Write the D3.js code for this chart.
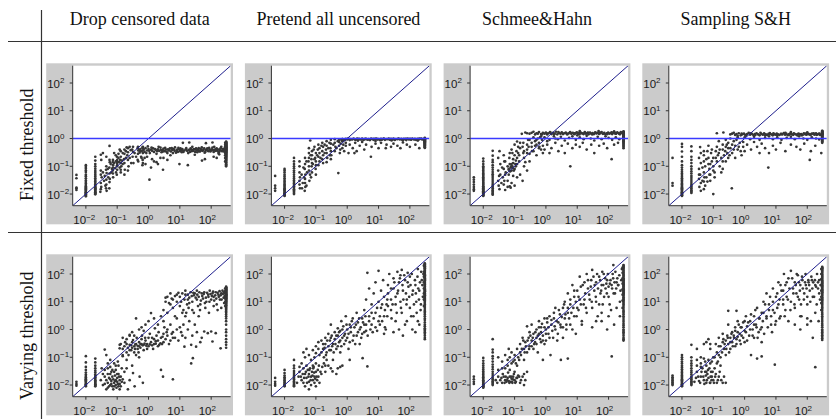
<!DOCTYPE html>
<html><head><meta charset="utf-8">
<script src="https://cdn.jsdelivr.net/npm/d3@7/dist/d3.min.js"></script>
<style>body{margin:0;background:#fff;} svg{display:block;}</style>
</head><body>
<svg id="chart" width="836" height="419"></svg>
<script>
const methods = ["Drop censored data", "Pretend all uncensored", "Schmee&Hahn", "Sampling S&H"];
const regimes = ["Fixed threshold", "Varying threshold"];
const tickExponents = [-2, -1, 0, 1, 2];
const axisDomain = [0.0038, 420];
const fixedThreshold = 1;

// ---------- Drop censored data, fixed threshold ----------
const dropFixedStacks = [
 [0.005, [0.049,0.037,0.017,0.016,0.014]],
 [0.01, [0.11,0.095,0.082,0.07,0.062,0.05,0.044,0.037,0.031,0.027,0.024,0.021,0.019,0.0175,0.016,0.015,0.014,0.013,0.0122,0.0115,0.011,0.0104,0.0098,0.0093,0.0088,0.0083]],
 [0.02, [0.22,0.16,0.12,0.1,0.082,0.068,0.058,0.05,0.043,0.037,0.032,0.028,0.025,0.022,0.02,0.018,0.017,0.016,0.015,0.014,0.013,0.012,0.0115,0.011,0.0104,0.0098]],
 [300, [0.78,0.75,0.72,0.7,0.68,0.66,0.64,0.62,0.6,0.58,0.57,0.55,0.54,0.52,0.51,0.5,0.49,0.48,0.47,0.46,0.45,0.44,0.43,0.42,0.41,0.4,0.39,0.38,0.37,0.36,0.35,0.34,0.33,0.32,0.31,0.3,0.29,0.28,0.27,0.26,0.25,0.24,0.23,0.22,0.21,0.2,0.19,0.18,0.17,0.16,0.15,0.14,0.13,0.12,0.115,0.11,0.1]],
 [280, [0.7,0.6,0.52,0.45,0.4,0.35,0.3,0.25,0.2,0.15]]
];
const dropFixedPts = [
 [0.03,0.26],[0.031,0.17],[0.03,0.07],[0.03,0.05],[0.032,0.04],[0.03,0.025],[0.031,0.018],[0.03,0.015],[0.029,0.012],
 [0.045,0.22],[0.045,0.1],[0.044,0.075],[0.046,0.057],[0.045,0.033],[0.045,0.022],[0.044,0.016],[0.046,0.013],
 [0.057,0.54],[0.057,0.17],[0.058,0.14],[0.056,0.09],[0.057,0.055],[0.058,0.035],[0.057,0.027],[0.056,0.016],
 [0.073,0.17],[0.072,0.14],[0.074,0.11],[0.073,0.09],[0.072,0.07],[0.073,0.055],[0.074,0.04],
 [0.098,0.22],[0.1,0.17],[0.097,0.15],[0.099,0.13],[0.1,0.11],[0.098,0.1],[0.1,0.075],[0.097,0.05],
 [0.13,0.35],[0.13,0.22],[0.125,0.17],[0.13,0.13],[0.135,0.1],[0.13,0.075],[0.13,0.06],
 [0.17,0.4],[0.17,0.28],[0.165,0.18],[0.17,0.13],[0.175,0.075],[0.17,0.05],
 [0.22,0.45],[0.22,0.32],[0.21,0.25],[0.22,0.17],[0.23,0.1],[0.22,0.07],
 [0.32,0.5],[0.3,0.4],[0.32,0.33],[0.31,0.22],[0.33,0.13],
 [0.46,0.5],[0.45,0.45],[0.47,0.37],[0.46,0.28],[0.45,0.17],[0.47,0.15],
 [0.66,0.5],[0.65,0.45],[0.67,0.37],[0.66,0.3],[0.65,0.17],[0.66,0.13],[0.64,0.11],
 [0.08,0.3],[0.11,0.28],[0.09,0.25],[0.035,0.3],
 [0.035,0.06],[0.038,0.03],[0.04,0.045],[0.042,0.02],[0.05,0.08],[0.052,0.04],[0.062,0.12],[0.065,0.06],[0.068,0.08],[0.08,0.13],[0.085,0.085],[0.09,0.15],[0.092,0.06],[0.11,0.2],[0.115,0.14],[0.12,0.09],[0.14,0.16],[0.15,0.12],[0.15,0.3],[0.19,0.2],[0.19,0.35],[0.25,0.2],[0.27,0.38],[0.28,0.13],[0.36,0.3],[0.4,0.22],[0.55,0.35],[0.58,0.22],[0.75,0.2],[0.12,0.4],[0.2,0.48],[0.25,0.5],
 [0.5,0.38],[0.55,0.42],[0.6,0.35],[0.7,0.4],[0.75,0.33],[0.8,0.45],[0.9,0.37],[1,0.42],[1.1,0.3],[1.2,0.4],[1.3,0.36],[1.4,0.44],[1.5,0.33],[1.7,0.39],[1.8,0.28],[2,0.41],[2.2,0.36],[2.4,0.47],[2.6,0.32],[2.8,0.38],[3,0.43],[3.3,0.35],[3.6,0.4],[4,0.3],[4.4,0.37],[4.8,0.44],[5.2,0.34],[5.7,0.39],[6.2,0.42],[6.8,0.36],[7.5,0.31],[8.2,0.4],[9,0.46],[10,0.35],[11,0.38],[12,0.42],[13,0.33],[14,0.37],[15.5,0.41],[17,0.36],[18.5,0.3],[20,0.39],[22,0.44],[24,0.35],[26,0.38],[28,0.42],[31,0.33],[34,0.37],[37,0.4],[40,0.45],[44,0.34],[48,0.39],[52,0.36],[57,0.42],[62,0.31],[68,0.38],[75,0.44],[82,0.35],[90,0.4],[100,0.37],[110,0.47],[120,0.33],[130,0.39],[140,0.42],[155,0.36],[170,0.3],[185,0.4],[200,0.45],[220,0.35],[240,0.41],[260,0.38],
 [0.52,0.31],[0.65,0.48],[0.85,0.3],[0.95,0.52],[1.05,0.36],[1.25,0.47],[1.6,0.42],[1.9,0.35],[2.1,0.5],[2.5,0.39],[2.9,0.34],[3.4,0.46],[3.8,0.33],[4.2,0.41],[4.6,0.38],[5.5,0.45],[6,0.3],[6.5,0.4],[7,0.48],[8,0.36],[8.6,0.33],[9.5,0.41],[10.5,0.44],[11.5,0.32],[12.5,0.37],[16,0.45],[19,0.38],[21,0.33],[23,0.4],[25,0.5],[27,0.36],[30,0.41],[33,0.44],[36,0.32],[39,0.38],[42,0.35],[46,0.42],[50,0.48],[55,0.37],[60,0.44],[65,0.33],[72,0.4],[78,0.37],[86,0.46],[95,0.34],[105,0.41],[115,0.38],[125,0.5],[135,0.36],[150,0.44],[165,0.4],[180,0.33],[195,0.37],[210,0.5],[230,0.42],[250,0.34],[270,0.45],
 [12.5,0.7],[20,0.72],[68,0.68],[110,0.72],[5,0.25],[30,0.26],[120,0.22],[180,0.27],
 [1.07,0.033],[2.9,0.075],[9.7,0.12],[18,0.11],[51,0.16],[63,0.18],[1.5,0.15],[2,0.12],[3,0.2],[0.8,0.12],[1.2,0.09],[0.6,0.2],[150,0.2],[0.9,0.22],[1.3,0.18],[4,0.17],[1.8,0.14],[2.4,0.2]
];

// ---------- Pretend all uncensored, fixed threshold ----------
const uncFixedStacks = [
 [0.005, [0.045,0.02,0.016,0.013]],
 [0.01, [0.08,0.07,0.06,0.05,0.043,0.037,0.032,0.028,0.025,0.022,0.02,0.018,0.016,0.015,0.014,0.013,0.012,0.011,0.0105,0.01,0.0095,0.009,0.0085]],
 [0.02, [0.2,0.15,0.12,0.1,0.085,0.07,0.06,0.05,0.042,0.036,0.031,0.027,0.024,0.021,0.019,0.017,0.015,0.014,0.013,0.012,0.011,0.01]],
 [300, [1.05,1.02,1.0,0.98,0.97,0.95,0.93,0.91,0.9,0.88,0.86,0.84,0.82,0.8,0.78,0.76,0.74,0.72,0.7,0.67,0.65,0.62,0.6,0.57,0.55,0.52,0.5,0.48,0.46]]
];
const uncFixedPts = [
 [0.03,0.15],[0.03,0.1],[0.03,0.06],[0.031,0.04],[0.03,0.03],[0.03,0.022],[0.031,0.016],[0.045,0.2],[0.045,0.12],[0.044,0.08],[0.046,0.05],[0.045,0.035],[0.045,0.025],[0.046,0.018],[0.044,0.013],
 [0.06,0.45],[0.06,0.3],[0.06,0.2],[0.058,0.15],[0.06,0.1],[0.06,0.07],[0.075,0.35],[0.075,0.25],[0.072,0.18],[0.075,0.13],[0.073,0.1],[0.075,0.06],[0.09,0.5],[0.1,0.3],[0.095,0.2],[0.1,0.15],[0.1,0.11],[0.098,0.08],[0.066,0.85],
 [0.12,0.6],[0.13,0.45],[0.13,0.3],[0.12,0.22],[0.13,0.15],[0.12,0.11],[0.16,0.7],[0.17,0.5],[0.16,0.35],[0.17,0.25],[0.16,0.18],[0.17,0.13],[0.22,0.8],[0.22,0.55],[0.21,0.4],[0.22,0.3],[0.23,0.2],[0.22,0.14],[0.3,0.9],[0.3,0.65],[0.29,0.45],[0.3,0.35],[0.31,0.25],[0.3,0.18],
 [0.035,0.05],[0.038,0.025],[0.04,0.09],[0.042,0.04],[0.05,0.15],[0.052,0.06],[0.065,0.05],[0.068,0.25],[0.08,0.12],[0.085,0.4],[0.09,0.18],[0.11,0.25],[0.115,0.4],[0.14,0.2],[0.15,0.55],[0.19,0.3],[0.19,0.6],[0.25,0.45],[0.27,0.7],[0.28,0.25],[0.36,0.6],[0.45,0.45],[0.5,0.8],[0.62,0.65],[0.65,0.9],[0.036,0.016],[0.05,0.02],[0.062,0.03],[0.07,0.04],[0.1,0.05],
 [0.4,0.95],[0.4,0.7],[0.42,0.5],[0.4,0.35],[0.52,0.057],[0.55,0.9],[0.55,0.75],[0.55,0.55],[0.6,0.4],[0.58,0.3],[0.7,0.95],[0.7,0.8],[0.75,0.6],[0.7,0.45],[0.8,0.35],[0.85,0.9],[0.9,0.7],
 [1.2,0.6],[1.5,0.45],[1.8,0.7],[2,0.35],[2.5,0.55],[3,0.75],[3.5,0.4],[4,0.6],[1.1,0.3],[5.7,0.22],[6,0.5],[8,0.65],[10,0.45],[12,0.7],[17,0.45],[18,0.6],[25,0.5],[30,0.65],[40,0.55],[50,0.45],[60,0.72],[80,0.6],[100,0.5],[150,0.6],[200,0.45],[2.2,0.85],[0.9,0.55],[1.7,0.3],
 [0.7,0.95],[0.8,0.9],[0.9,0.98],[1,0.93],[1.1,1],[1.2,0.88],[1.3,0.96],[1.4,0.92],[1.6,0.99],[1.8,0.9],[2,0.95],[2.2,0.86],[2.4,0.97],[2.7,0.93],[3,1],[3.3,0.89],[3.6,0.95],[4,0.98],[4.4,0.91],[4.8,0.96],[5.3,0.88],[5.8,0.99],[6.4,0.94],[7,0.9],[7.7,0.97],[8.5,1],[9.3,0.92],[10,0.96],[11,0.88],[12,0.98],[13,0.93],[14.5,0.99],[16,0.9],[17.5,0.96],[19,0.94],[21,1],[23,0.91],[25,0.97],[27.5,0.93],[30,0.99],[33,0.89],[36,0.96],[40,0.94],[44,1],[48,0.92],[53,0.97],[58,0.9],[64,0.98],[70,0.95],[77,0.88],[85,0.99],[93,0.93],[100,0.97],[110,0.91],[120,1],[132,0.94],[145,0.97],[160,0.89],[175,0.98],[190,0.93],[210,0.96],[230,1],[250,0.92],
 [0.75,0.85],[1.05,0.97],[1.5,0.94],[2.1,0.99],[2.9,0.92],[3.8,0.97],[5,0.93],[6.8,0.98],[9,0.95],[12.5,0.91],[15,0.97],[22,0.95],[32,0.92],[42,0.98],[56,0.94],[75,0.97],[105,0.95],[140,0.92],[200,0.99],[240,0.96],[26,0.85],[60,0.85],[8,0.82],[180,0.84]
];

// ---------- Schmee&Hahn, fixed threshold ----------
const shFixedStacks = [
 [0.005, [0.04,0.033,0.027,0.022,0.018,0.015,0.013]],
 [0.01, [0.19,0.15,0.12,0.1,0.09,0.08,0.07,0.062,0.055,0.05,0.045,0.04,0.036,0.033,0.03,0.027,0.025,0.023,0.021,0.019,0.018,0.017,0.016,0.015,0.014,0.013,0.0125,0.012,0.0115,0.011,0.0105,0.01,0.0095,0.009,0.0085]],
 [0.02, [0.36,0.24,0.17,0.14,0.11,0.09,0.075,0.062,0.052,0.045,0.038,0.032,0.027,0.023,0.02,0.018,0.016,0.014,0.013,0.012,0.011,0.01,0.0095]],
 [300, [1.8,1.75,1.7,1.65,1.6,1.55,1.5,1.48,1.45,1.42,1.4,1.35,1.3,1.25,1.2,1.15,1.1,1.05,1.0,0.95,0.9,0.85,0.8,0.75,0.7,0.65,0.6,0.55,0.5,0.45]]
];
const shFixedPts = [
 [0.033,0.35],[0.03,0.2],[0.035,0.12],[0.03,0.07],[0.032,0.045],[0.03,0.03],[0.031,0.02],[0.033,0.015],[0.045,0.25],[0.047,0.15],[0.045,0.08],[0.05,0.05],[0.047,0.03],[0.045,0.022],[0.05,0.014],
 [0.06,0.1],[0.065,0.08],[0.07,0.12],[0.075,0.09],[0.08,0.07],[0.085,0.1],[0.09,0.13],[0.1,0.08],[0.11,0.1],[0.12,0.12],[0.07,0.3],[0.08,0.4],[0.1,0.25],[0.12,0.2],[0.13,0.5],[0.14,0.15],[0.06,0.03],[0.08,0.025],[0.1,0.02],[0.12,0.04],[0.13,0.3],[0.15,0.7],[0.1,0.6],
 [0.065,0.075],[0.072,0.065],[0.078,0.1],[0.088,0.085],[0.095,0.07],[0.105,0.12],[0.07,0.019],[0.075,0.017],[0.09,0.045],[0.06,0.018],
 [0.035,0.05],[0.038,0.025],[0.04,0.09],[0.042,0.04],[0.05,0.15],[0.052,0.06],[0.065,0.05],[0.068,0.2],[0.08,0.12],[0.085,0.3],[0.09,0.18],[0.11,0.16],[0.115,0.35],[0.14,0.25],[0.15,0.45],[0.19,0.3],[0.19,0.7],[0.25,0.3],[0.27,0.9],[0.28,0.5],[0.36,0.35],[0.45,0.55],[0.5,0.9],[0.62,0.5],[0.65,1.1],
 [0.12,0.78],[0.22,1.65],[0.17,1.47],[0.25,1.55],
 [0.18,0.5],[0.2,0.35],[0.2,0.2],[0.22,0.14],[0.25,0.6],[0.25,0.4],[0.3,0.9],[0.3,0.28],[0.3,0.15],[0.35,0.7],[0.35,0.5],[0.4,1.1],[0.4,0.35],[0.45,0.8],[0.5,0.6],[0.5,0.25],[0.55,1.0],[0.6,0.45],[0.6,0.7],[0.7,1.2],[0.7,0.4],[0.75,0.9],[0.8,0.55],[0.8,0.3],[0.2,0.1],[0.25,0.07],[0.15,0.05],[0.18,0.03],
 [0.3,1.5],[0.35,1.6],[0.45,1.4],[0.5,1.55],[0.6,1.7],[0.7,1.45],[0.8,1.6],[0.9,1.5],[1,1.65],[1.1,1.4],[1.2,1.55],[1.35,1.7],[1.5,1.45],[1.7,1.6],[1.9,1.5],[2.1,1.75],[2.3,1.42],[2.6,1.58],[2.9,1.5],[3.2,1.68],[3.5,1.45],[3.9,1.55],[4.3,1.62],[4.8,1.4],[5.3,1.52],[5.9,1.7],[6.5,1.48],[7.2,1.6],[8,1.43],[8.8,1.56],[9.7,1.66],[10.7,1.5],[11.8,1.4],[13,1.62],[14.3,1.53],[15.8,1.45],[17.4,1.7],[19,1.5],[21,1.58],[23,1.42],[25.5,1.64],[28,1.5],[31,1.56],[34,1.44],[37.5,1.68],[41,1.52],[45,1.6],[50,1.46],[55,1.55],[60,1.72],[66,1.48],[73,1.6],[80,1.42],[88,1.55],[97,1.65],[107,1.5],[118,1.58],[130,1.44],[143,1.62],[157,1.52],[173,1.47],[190,1.66],[210,1.55],[230,1.42],[255,1.6],
 [0.4,1.75],[0.55,1.5],[0.75,1.4],[1.05,1.52],[1.4,1.62],[1.8,1.42],[2.5,1.7],[3.4,1.55],[4.6,1.5],[6.2,1.58],[8.4,1.52],[11.3,1.6],[16.5,1.55],[22,1.65],[30,1.4],[40,1.58],[53,1.62],[70,1.52],[92,1.45],[125,1.68],[165,1.6],[220,1.5],[245,1.7],[12,1.85],[48,1.85],[150,1.8],
 [0.9,1.1],[1.3,0.9],[1.8,1.2],[2.4,0.95],[3,1.15],[4,0.85],[5.5,1.05],[7,1.2],[9,0.9],[12,1.1],[16,0.95],[20,1.25],[27,1],[35,0.85],[45,1.15],[60,0.95],[80,1.2],[100,1.05],[130,0.9],[170,1.1],[220,0.95],[2,1],[1.1,0.8],[10,1.3],
 [1.1,0.6],[1.5,0.45],[2,0.7],[2.5,0.35],[3.2,0.55],[4,0.3],[5,0.65],[6,0.1],[7,0.45],[9,0.6],[12,0.5],[15,0.7],[20,0.4],[28,0.6],[35,0.3],[50,0.55],[70,0.65],[90,0.45],[125,0.18],[150,0.6],[200,0.7],[1.3,0.3],[0.9,0.4]
];

// ---------- Sampling S&H, fixed threshold ----------
const sampFixedStacks = [
 [0.005, [0.2,0.025,0.02]],
 [0.01, [0.64,0.5,0.34,0.22,0.15,0.11,0.09,0.075,0.063,0.055,0.048,0.042,0.037,0.033,0.03,0.027,0.024,0.022,0.02,0.018,0.017,0.016,0.015,0.014,0.013,0.012,0.0115,0.011,0.0105,0.01,0.0095,0.009,0.0085]],
 [0.02, [0.52,0.35,0.22,0.17,0.13,0.1,0.08,0.065,0.055,0.045,0.038,0.032,0.027,0.023,0.02,0.018,0.016,0.014,0.013,0.012,0.011]],
 [300, [1.9,1.85,1.8,1.75,1.7,1.65,1.6,1.55,1.5,1.48,1.45,1.42,1.4,1.35,1.3,1.25,1.2,1.15,1.1,1.05,1.0,0.95,0.9,0.85,0.8,0.75,0.7]]
];
const sampFixedPts = [
 [0.038,0.49],[0.04,0.3],[0.035,0.2],[0.04,0.13],[0.035,0.08],[0.038,0.05],[0.035,0.035],[0.04,0.025],[0.036,0.018],[0.04,0.013],[0.05,0.25],[0.05,0.15],[0.055,0.1],[0.05,0.06],[0.052,0.04],[0.05,0.028],[0.055,0.02],[0.05,0.015],
 [0.065,0.35],[0.07,0.2],[0.07,0.12],[0.075,0.08],[0.08,0.05],[0.085,0.3],[0.09,0.15],[0.1,0.1],[0.1,0.07],[0.11,0.04],[0.12,0.2],[0.13,0.15],[0.13,0.5],[0.15,0.8],[0.15,0.3],[0.16,0.1],[0.1,0.01],[0.08,0.03],[0.065,0.028],[0.18,0.06],[0.13,1.55],[0.21,1.65],
 [0.035,0.05],[0.045,0.03],[0.045,0.09],[0.06,0.04],[0.06,0.18],[0.075,0.05],[0.08,0.12],[0.09,0.4],[0.1,0.2],[0.11,0.06],[0.12,0.35],[0.14,0.25],[0.16,0.4],[0.18,0.2],[0.2,0.15],[0.24,0.35],[0.27,0.6],[0.3,0.45],[0.33,0.25],[0.4,0.6],[0.45,0.4],[0.55,0.9],[0.65,0.5],[0.75,0.35],[0.05,0.35],[0.07,0.55],
 [0.2,0.6],[0.2,0.4],[0.22,0.25],[0.25,0.9],[0.25,0.5],[0.28,0.3],[0.3,0.2],[0.3,0.7],[0.35,1.0],[0.35,0.45],[0.4,0.3],[0.45,0.8],[0.5,0.55],[0.5,0.2],[0.6,1.1],[0.6,0.4],[0.7,0.7],[0.8,0.25],[0.9,0.5],[0.39,0.016],[0.25,0.15],[0.2,0.08],
 [0.35,1.4],[0.4,1.5],[0.5,1.35],[0.55,1.45],[0.65,1.55],[0.75,1.3],[0.85,1.42],[0.95,1.5],[1.05,1.36],[1.2,1.45],[1.35,1.6],[1.5,1.38],[1.7,1.48],[1.9,1.33],[2.1,1.45],[2.4,1.55],[2.7,1.4],[3,1.3],[3.4,1.47],[3.8,1.38],[4.2,1.52],[4.7,1.42],[5.2,1.35],[5.8,1.46],[6.4,1.58],[7.1,1.4],[7.9,1.3],[8.7,1.45],[9.6,1.38],[10.6,1.5],[11.7,1.42],[13,1.34],[14.4,1.48],[16,1.4],[17.7,1.56],[19.6,1.37],[21.7,1.46],[24,1.32],[26.5,1.44],[29,1.52],[32,1.4],[35.5,1.36],[39,1.48],[43,1.42],[48,1.3],[53,1.5],[58,1.4],[64,1.45],[71,1.35],[78,1.55],[86,1.42],[95,1.38],[105,1.48],[116,1.4],[128,1.33],[141,1.5],[156,1.44],[172,1.38],[190,1.52],[210,1.4],[232,1.46],[255,1.35],
 [0.45,1.6],[0.6,1.25],[0.8,1.5],[1.1,1.28],[1.6,1.55],[2.2,1.35],[3.2,1.6],[4.5,1.28],[6,1.42],[8.3,1.52],[11,1.3],[15,1.45],[20,1.6],[27,1.38],[37,1.55],[50,1.44],[67,1.3],[90,1.5],[120,1.45],[160,1.55],[200,1.36],[245,1.5],[30,1.7],[100,1.68],
 [1,1.1],[1.5,0.95],[2,1.15],[3,0.9],[4.5,1.05],[6,1.2],[8,0.95],[11,1.1],[15,0.9],[22,1.05],[30,1.15],[40,0.95],[55,1.2],[75,1.0],[100,0.9],[140,1.1],[190,1.0],[240,0.92],
 [1.2,0.6],[1.6,0.4],[2,0.75],[2.5,0.5],[3,0.3],[3.5,0.65],[4.5,0.45],[5.7,0.09],[6,0.3],[8,0.55],[10,0.4],[14,0.7],[20,0.35],[30,0.6],[45,0.5],[60,0.4],[80,0.65],[120,0.17],[130,0.35],[180,0.55],[280,0.3],[1,0.35],[0.9,0.75]
];

// ---------- Drop censored data, varying threshold ----------
const dropVarStacks = [
 [0.005, [0.013,0.011,0.0095]],
 [0.01, [0.11,0.065,0.045,0.035,0.028,0.024,0.021,0.019,0.017,0.016,0.015,0.014,0.013,0.012,0.011,0.0105,0.01,0.0095,0.009]],
 [0.02, [0.09,0.065,0.05,0.04,0.033,0.028,0.024,0.021,0.019,0.017,0.015,0.014,0.013,0.012,0.011,0.0105,0.01,0.0095,0.009]],
 [300, [35,33,32,31,30,29,28,27,26,25,24,23,22,21,20,19.5,19,18.5,18,17.5,17,16.5,16,15.5,15,14.5,14,13.5,13,12.5,12,11.5,11,10.5,10,9.5,9,8.5,8,7.5,7,6.5,6,5.5,5,4.5,4,3.5,3,2.5,2,1.5,1,0.8,0.6,0.45,0.35,0.28,0.22]],
 [280, [30,24,20,16,13,10,7]]
];
const dropVarPts = [
 [0.04,0.02],[0.045,0.015],[0.05,0.012],[0.055,0.018],[0.06,0.01],[0.06,0.025],[0.065,0.014],[0.07,0.02],[0.07,0.009],[0.075,0.016],[0.08,0.012],[0.08,0.03],[0.085,0.022],[0.09,0.015],[0.09,0.01],[0.1,0.018],[0.1,0.013],[0.11,0.009],[0.11,0.025],[0.12,0.015],[0.12,0.011],[0.13,0.02],[0.14,0.013],[0.04,0.035],[0.05,0.04],[0.06,0.045],[0.05,0.008],[0.07,0.035],
 [0.035,0.01],[0.045,0.007],[0.055,0.009],[0.065,0.011],[0.075,0.007],[0.085,0.014],[0.095,0.008],[0.105,0.011],[0.115,0.02],[0.13,0.009],[0.15,0.016],[0.17,0.012],[0.06,0.016],[0.08,0.009],[0.1,0.025],[0.12,0.007],[0.04,0.011],[0.05,0.025],[0.065,0.03],[0.09,0.035],[0.11,0.05],[0.14,0.04],[0.17,0.03],[0.2,0.04],[0.25,0.015],[0.22,0.007],
 [0.05,0.06],[0.06,0.08],[0.08,0.06],[0.09,0.05],[0.04,0.19],[0.045,0.12],[0.035,0.025],[0.03,0.015],[0.032,0.04],
 [0.12,0.21],[0.15,0.11],[0.105,0.07],[0.13,0.3],[0.15,0.2],[0.17,0.25],[0.2,0.15],[0.2,0.3],[0.22,0.22],[0.25,0.28],[0.25,0.18],[0.3,0.22],[0.3,0.35],[0.35,0.25],[0.35,0.15],[0.4,0.3],[0.45,0.2],[0.5,0.35],[0.5,0.25],[0.6,0.3],[0.6,0.45],[0.7,0.28],[0.8,0.4],[0.9,0.3],[1,0.5],[1,0.25],[1.2,0.35],[1.5,0.45],[1.5,0.3],[1.8,0.6],[2,0.4],[2,0.25],[2.5,0.5],[3,0.35],[3,0.7],[3.5,0.45],[4,0.6],[5,0.4],[6,0.5],[0.15,0.5],[0.25,0.6],[0.3,0.8],[0.4,0.12],[0.2,0.08],[0.3,0.05],[0.5,0.1],
 [0.15,0.12],[0.18,0.35],[0.2,0.45],[0.23,0.12],[0.28,0.18],[0.32,0.42],[0.37,0.2],[0.42,0.5],[0.48,0.15],[0.55,0.22],[0.62,0.6],[0.7,0.18],[0.78,0.5],[0.9,0.2],[1.1,0.7],[1.3,0.5],[1.4,0.2],[1.7,0.38],[2.1,0.8],[2.4,0.32],[2.8,0.55],[3.2,1.2],[3.8,0.8],[4.5,0.3],[5.5,0.7],[7,0.5],[8,1],[9,0.4],[11,0.8],[13,1.5],[18,1],[25,0.6],[35,0.8],[50,0.5],[0.8,1.5],[1,2],[2,1.5],[2.5,3],[0.6,1.2],[0.35,0.6],[0.7,0.9],[1.6,1.1],
 [0.28,0.27],[0.38,0.29],[0.45,0.26],[0.55,0.3],[0.65,0.27],[0.75,0.31],[0.85,0.26],[1.1,0.29],[1.3,0.27],[1.7,0.31],[2.2,0.28],[2.7,0.3],
 [0.32,0.027],[0.52,0.02],[0.66,0.012],[0.36,0.009],[2.5,0.035],[2.9,0.02],[6,0.016],[26,0.093],[23,0.06],
 [0.4,2.5],[0.12,0.28],[0.25,0.64],[0.5,1],[1.2,3.9],[1.5,2.5],
 [3,5],[3.5,10],[4,15],[4,4],[5,8],[5,20],[6,6],[6,12],[7,3],[8,10],[8,18],[10,7],[10,15],[12,20],[12,4],[14,12],[15,25],[17,8],[18,18],[20,14],[22,22],[25,10],[25,5],[28,17],[30,20],[35,12],[35,25],[40,15],[45,8],[50,20],[55,13],[60,22],[70,10],[80,18],[90,25],[100,12],[110,20],[120,15],[140,22],[150,8],[170,18],[190,12],[210,20],[230,25],[250,14],
 [15,18],[18,12],[20,9],[24,16],[27,21],[32,14],[36,18],[42,22],[47,11],[52,16],[58,19],[63,9],[68,14],[74,21],[82,15],[88,10],[95,19],[105,16],[115,23],[125,11],[135,17],[145,13],[160,21],[175,15],[185,24],[200,17],[215,12],[235,19],[255,22],[270,16],[3.5,14],[4.5,9],[5.5,13],[7,16],[9,21],[11,10],[13,5],[16,4],[19,6],[28,4],[38,7],[44,5],[65,6],[85,4],[120,7],[160,5],[210,6],[260,9],
 [3,2],[5,1.5],[8,2.5],[10,1.2],[15,3],[20,2],[30,1.5],[40,3],[4,1],[6,0.8],[12,0.6],[15,0.5],
 [60,0.85],[78,0.74],[100,0.85],[140,0.74],[110,0.37],[200,0.21],[14,0.24],[23,0.28],[33,0.24],[45,0.35]
];

// ---------- Pretend all uncensored, varying threshold ----------
const uncVarStacks = [
 [0.005, [0.018,0.013,0.011,0.0095]],
 [0.01, [0.035,0.027,0.022,0.019,0.017,0.015,0.013,0.012,0.011,0.01,0.0095,0.009]],
 [0.02, [0.08,0.05,0.04,0.032,0.027,0.023,0.02,0.018,0.016,0.014,0.013,0.012,0.011,0.01,0.0095,0.009]],
 [300, [240,230,220,210,200,190,180,170,160,150,140,130,120,110,100,95,90,85,80,75,70,65,60,56,52,48,45,42,40,37,35,32,30,28,26,24,23,21,20,19,18,17,16,15,14,13,12,11,10,9,8,7,6,5,4.5,4,3.5,3,2.5,2.2,1.8,1.5,1.3,1.1,1,0.9,0.8,0.7,0.6,0.5,0.45]],
 [280, [200,120,80,50,30,20,12,7]]
];
const uncVarPts = [
 [0.03,0.045],[0.03,0.03],[0.033,0.02],[0.035,0.015],[0.04,0.04],[0.04,0.012],[0.045,0.025],[0.05,0.018],[0.05,0.05],[0.055,0.035],[0.06,0.013],[0.06,0.025],[0.065,0.04],[0.07,0.02],[0.07,0.01],[0.075,0.03],[0.08,0.015],[0.085,0.045],[0.09,0.012],[0.09,0.02],[0.1,0.009],[0.1,0.03],[0.11,0.015],[0.12,0.02],[0.13,0.012],[0.06,0.007],[0.045,0.009],[0.15,0.025],[0.035,0.06],
 [0.025,0.012],[0.028,0.02],[0.038,0.025],[0.042,0.018],[0.048,0.03],[0.052,0.012],[0.058,0.02],[0.062,0.035],[0.068,0.015],[0.078,0.022],[0.082,0.04],[0.088,0.028],[0.095,0.017],[0.105,0.02],[0.115,0.035],[0.125,0.05],[0.14,0.03],[0.16,0.045],[0.18,0.06],[0.2,0.03],[0.22,0.08],[0.25,0.05],
 [0.04,0.15],[0.045,0.1],[0.05,0.2],[0.06,0.12],[0.07,0.08],[0.08,0.18],[0.09,0.1],[0.1,0.25],[0.1,0.14],[0.12,0.35],[0.12,0.2],[0.13,0.12],
 [0.15,0.4],[0.17,0.2],[0.18,0.1],[0.2,0.5],[0.2,0.3],[0.22,0.15],[0.25,0.7],[0.25,0.25],[0.28,0.4],[0.3,1.5],[0.3,0.18],[0.32,0.6],[0.35,0.3],[0.35,0.08],[0.4,0.8],[0.4,0.45],[0.45,0.2],[0.5,1.1],[0.5,0.6],[0.55,0.35],[0.6,0.15],[0.6,0.9],[0.65,2],[0.7,0.5],[0.75,1.3],[0.8,0.3],[0.85,0.7],[0.9,3],[1,1],[1,0.5],[1.1,0.2],[1.2,1.5],[1.3,0.8],[1.5,0.4],[1.5,2.5],[1.7,1.2],[2,0.6],[2,4],[2.2,1.8],[2.5,0.3],[2.5,1],[3,2.5],[3,0.7],[3.5,5],[3.5,1.5],[4,0.9],[0.08,0.05],[0.1,0.06],[0.2,0.05],[0.3,0.04],[0.5,0.04],[0.7,0.05],[1.2,0.08],
 [0.15,0.15],[0.17,0.3],[0.19,0.22],[0.21,0.12],[0.23,0.4],[0.27,0.18],[0.3,0.5],[0.33,0.25],[0.37,0.15],[0.42,0.3],[0.45,0.6],[0.5,0.25],[0.55,0.8],[0.6,0.4],[0.65,0.25],[0.7,1],[0.8,0.6],[0.9,0.4],[0.95,1.5],[1.1,0.7],[1.2,0.35],[1.3,1.2],[1.4,2],[1.6,0.6],[1.8,0.3],[1.9,1.5],[2.2,0.8],[2.4,2.5],[2.7,1.2],[2.8,0.5],[3.2,1.8],[3.5,0.8],[3.8,3],[4,1.5],[4.5,0.6],[5,2],[5.5,1],[6,4],[6.5,0.8],[7,2.5],[8,1.2],[9,6],[9,0.9],[11,3],[11,1.5],[13,8],[13,2],[16,5],[16,1.2],[19,12],[19,3],
 [3.1,0.093],[4.4,0.047],[0.34,0.031],[0.45,0.025],[0.6,0.045],
 [4,12],[4.4,110],[5,30],[5,3],[6,8],[6,1.5],[7,20],[8,4],[8,50],[10,130],[10,10],[10,2],[12,25],[12,6],[14,60],[15,15],[15,3],[17,1],[18,8],[20,40],[20,20],[22,100],[25,5],[25,12],[30,70],[30,30],[35,2],[35,8],[40,20],[45,50],[50,10],[50,90],[55,4],[60,25],[70,60],[70,1.5],[80,12],[90,35],[100,6],[100,80],[120,18],[130,3],[150,40],[160,10],[180,2],[200,25],[220,5],[240,60],[30,0.8],[60,0.6],[15,0.7],
 [25,30],[28,8],[32,50],[35,15],[38,4],[42,25],[48,70],[52,6],[58,40],[62,12],[66,90],[75,20],[78,8],[85,50],[95,15],[105,40],[110,3],[115,100],[125,25],[135,8],[145,60],[155,20],[165,4],[175,80],[185,30],[195,12],[210,50],[225,8],[250,40],[260,15],[270,100],[40,120],[55,140],[85,110],[180,150],[230,120],[20,7],[26,2.5],[45,1],[80,2],[120,1],[200,1.5],[150,0.8]
];

// ---------- Schmee&Hahn, varying threshold ----------
const shVarStacks = [
 [0.005, [0.02,0.016,0.013,0.011]],
 [0.01, [0.095,0.075,0.06,0.05,0.042,0.036,0.031,0.027,0.024,0.021,0.019,0.017,0.015,0.014,0.013,0.012,0.011,0.0105,0.01,0.0095,0.009,0.0085,0.008]],
 [0.02, [0.45,0.19,0.15,0.11,0.09,0.07,0.055,0.045,0.037,0.03,0.025,0.021,0.018,0.016,0.014,0.013,0.012,0.011,0.01]],
 [300, [210,195,180,165,150,135,120,110,100,92,85,78,70,65,60,56,52,48,45,42,40,37,35,32,30,28,26,24,22,20,19,17.5,16,14.5,13,12,11,10,9,8,7,6,5,4.5,4,3.5,3,2.6,2.2,1.9,1.6,1.4,1.2,1,0.9,0.8,0.7,0.6,0.5,0.45,0.4]],
 [280, [170,110,70,45,28,18,11,6]]
];
const shVarPts = [
 [0.03,0.02],[0.035,0.015],[0.04,0.012],[0.045,0.02],[0.05,0.015],[0.055,0.013],[0.06,0.018],[0.065,0.014],[0.07,0.02],[0.075,0.013],[0.08,0.017],[0.085,0.012],[0.09,0.02],[0.1,0.015],[0.11,0.013],[0.12,0.018],[0.13,0.022],[0.15,0.012],[0.2,0.01],[0.2,0.025],[0.25,0.03],[0.03,0.035],[0.05,0.04],[0.07,0.035],[0.1,0.03],
 [0.025,0.015],[0.028,0.012],[0.038,0.018],[0.042,0.025],[0.048,0.012],[0.052,0.02],[0.058,0.015],[0.062,0.028],[0.068,0.012],[0.078,0.02],[0.082,0.013],[0.088,0.016],[0.095,0.025],[0.105,0.012],[0.115,0.018],[0.14,0.02],[0.16,0.015],[0.18,0.02],[0.22,0.015],
 [0.03,0.1],[0.04,0.07],[0.05,0.12],[0.06,0.08],[0.065,0.2],[0.07,0.1],[0.08,0.15],[0.09,0.07],[0.1,0.12],[0.11,0.06],[0.12,0.2],[0.13,0.1],
 [0.04,0.04],[0.06,0.05],[0.08,0.06],[0.1,0.08],[0.12,0.05],[0.14,0.08],[0.16,0.12],[0.17,0.2],[0.19,0.4],[0.21,0.15],[0.23,0.25],[0.26,0.4],[0.29,0.2],[0.32,0.6],[0.35,0.25],[0.38,0.5],[0.42,0.3],[0.46,0.8],[0.5,0.3],[0.55,0.6],[0.6,1.2],[0.65,0.45],[0.7,0.8],[0.75,1.6],[0.8,0.4],[0.9,1.2],[1,0.7],[1.1,2.5],[1.2,1.2],[1.3,0.5],[1.5,2.2],[1.6,0.9],[1.8,4],[1.9,1.3],[2.2,2],[2.4,0.7],[2.6,5],[2.9,1.5],[3.2,2.8],[3.5,1.2],[3.8,8],[4.2,3.5],[4.5,1.5],[5,6],[5.5,2.5],[6,12],[6.5,4],[7,1],[7.5,6],[8,25],[9,10],[9.5,3],[11,15],[11,5],[13,35],[13,8],[14,1.5],[17,12],[17,50],[19,6],
 [0.15,0.3],[0.15,0.15],[0.18,0.5],[0.2,0.2],[0.2,0.08],[0.22,0.35],[0.25,1.3],[0.25,0.15],[0.28,0.5],[0.3,0.25],[0.3,0.8],[0.35,0.4],[0.35,1.5],[0.4,0.2],[0.4,0.7],[0.45,0.35],[0.5,1],[0.5,0.5],[0.55,0.15],[0.6,2],[0.6,0.7],[0.7,0.35],[0.7,1.2],[0.8,0.6],[0.9,2.5],[0.9,0.3],[1,1],[1,0.4],[1.1,1.8],[1.2,0.7],[1.3,3],[1.4,0.12],[1.5,1.5],[1.7,0.5],[1.8,2.5],[2,1],[2,6],[2.3,0.4],[2.5,1.8],[2.8,3.5],[3,0.08],[3,1.2],[3.5,0.5],[3.5,6],[4,2.5],[4.5,1],[5,0.09],[0.8,0.08],
 [4,10],[5,4],[5,20],[6,1.5],[6,8],[7,40],[8,15],[8,3],[9,0.7],[10,25],[10,6],[12,80],[12,12],[14,2],[15,40],[16,8],[18,20],[20,100],[20,4],[22,30],[25,12],[28,60],[30,6],[30,140],[35,25],[40,50],[40,10],[45,3],[50,80],[55,20],[60,40],[65,8],[70,100],[80,30],[90,60],[100,15],[110,45],[120,5],[130,30],[140,70],[126,0.107],[160,20],[142,210],[180,50],[200,40],[230,10],[30,1.2],[60,2],[90,1],[150,1.5],
 [22,60],[24,18],[27,35],[29,10],[33,80],[36,40],[39,15],[43,100],[46,30],[50,8],[54,60],[58,25],[63,120],[68,40],[72,15],[78,70],[85,45],[88,20],[95,100],[100,35],[108,8],[115,60],[125,40],[135,100],[145,20],[155,50],[165,120],[175,30],[190,70],[205,40],[220,90],[240,25],[255,60],[265,150],[60,4],[100,3],[180,6],[230,3],[40,2]
];

// ---------- Sampling S&H, varying threshold ----------
const sampVarStacks = [
 [0.005, [0.022,0.019,0.017,0.015,0.013,0.012,0.011,0.01]],
 [0.01, [0.12,0.1,0.085,0.07,0.06,0.05,0.043,0.037,0.032,0.028,0.025,0.022,0.02,0.018,0.016,0.015,0.014,0.013,0.012,0.011,0.0105,0.01,0.0095,0.009]],
 [0.02, [0.28,0.1,0.075,0.06,0.05,0.04,0.033,0.028,0.024,0.02,0.018,0.016,0.014,0.013,0.012,0.011,0.01]],
 [300, [180,170,160,150,140,130,120,110,100,92,85,78,72,66,60,55,50,46,42,39,36,33,30,28,26,24,22,20.5,19,17.5,16,14.5,13,12,11,10,9,8,7,6.2,5.5,4.7,4,3.5,3,2.6,2.2,1.9,1.6,1.4,1.2,1,0.9,0.8,0.7,0.62,0.55,0.48,0.42]],
 [280, [150,100,65,40,25,15,9,5]]
];
const sampVarPts = [
 [0.03,0.08],[0.03,0.05],[0.03,0.03],[0.033,0.02],[0.035,0.014],[0.04,0.1],[0.04,0.06],[0.04,0.02],[0.045,0.04],[0.05,0.09],[0.05,0.015],[0.055,0.07],[0.055,0.03],[0.06,0.012],[0.06,0.05],[0.065,0.025],[0.07,0.08],[0.07,0.018],[0.075,0.04],[0.08,0.012],[0.08,0.06],[0.085,0.03],[0.09,0.02],[0.1,0.1],[0.1,0.015],[0.11,0.04],[0.12,0.025],[0.13,0.012],[0.14,0.07],[0.15,0.02],[0.17,0.05],[0.2,0.012],
 [0.025,0.013],[0.028,0.018],[0.038,0.012],[0.042,0.03],[0.048,0.02],[0.052,0.011],[0.058,0.022],[0.062,0.015],[0.068,0.035],[0.078,0.012],[0.082,0.02],[0.088,0.015],[0.095,0.03],[0.105,0.012],[0.115,0.02],[0.14,0.015],[0.16,0.03],[0.18,0.015],[0.22,0.02],[0.25,0.012],
 [0.03,0.2],[0.05,0.3],[0.06,0.35],[0.07,0.45],[0.08,0.3],[0.08,0.2],
 [0.04,0.045],[0.06,0.03],[0.09,0.07],[0.11,0.1],[0.13,0.06],[0.15,0.12],[0.17,0.25],[0.19,0.15],[0.21,0.45],[0.23,0.3],[0.26,0.2],[0.29,0.5],[0.32,0.15],[0.35,0.35],[0.38,0.7],[0.42,0.25],[0.46,0.5],[0.5,0.9],[0.55,0.3],[0.6,0.55],[0.65,1.5],[0.7,0.7],[0.75,0.3],[0.8,1.2],[0.9,0.5],[1,2],[1.1,0.8],[1.2,0.4],[1.3,1.8],[1.5,1],[1.6,3.5],[1.8,0.6],[2,1.5],[2.2,5],[2.4,1.2],[2.6,0.5],[2.9,2.5],[3.2,1],[3.5,4],[3.8,2],[4.2,0.7],[4.5,8],[5,2.5],[5.5,1.2],[6,5],[6.5,15],[7,3],[7.5,0.8],[8,10],[9,4],[9.5,1.5],[11,20],[11,6],[13,12],[13,2.5],[14,40],[17,8],[17,25],[19,3],
 [0.12,0.3],[0.13,0.15],[0.15,0.5],[0.15,0.25],[0.17,0.1],[0.2,0.35],[0.2,0.7],[0.22,0.2],[0.25,0.4],[0.25,0.12],[0.28,0.6],[0.3,0.3],[0.3,1.5],[0.35,0.5],[0.35,0.2],[0.4,0.8],[0.4,0.35],[0.45,0.6],[0.5,0.25],[0.5,1.2],[0.55,0.45],[0.6,2],[0.6,0.8],[0.7,0.4],[0.75,1.2],[0.8,0.6],[0.9,1.8],[1,0.9],[1,0.35],[1.1,3],[1.2,1.3],[1.4,0.6],[1.5,2],[1.6,0.12],[1.8,1],[2,3],[2,0.5],[2.3,1.5],[2.5,6],[2.8,0.8],[3,2.5],[3.5,1.2],[3.5,0.35],[4,4],[9.2,0.054],[3.5,0.107],[2.5,0.09],[0.3,4.7],[0.55,4.7],
 [4,10],[5,20],[5,3],[6,8],[7,1.5],[8,30],[8,5],[10,15],[10,2],[12,50],[12,8],[14,3],[15,25],[17,12],[18,100],[20,40],[20,5],[22,15],[25,70],[25,2],[30,10],[30,130],[35,30],[40,50],[40,6],[45,20],[50,90],[55,12],[60,40],[65,3],[70,60],[80,20],[90,40],[100,8],[110,50],[120,25],[130,2],[140,60],[150,15],[180,0.044],[180,40],[200,8],[220,50],[240,20],[60,1],[100,1.5],[150,0.5],
 [22,50],[24,12],[27,30],[29,5],[33,70],[36,20],[39,8],[43,40],[46,100],[50,15],[54,50],[58,25],[63,8],[68,80],[72,30],[78,12],[85,50],[88,100],[95,30],[100,15],[108,60],[115,40],[125,10],[135,80],[145,30],[155,50],[165,15],[175,60],[190,35],[205,100],[220,30],[240,60],[255,12],[265,40],[60,3],[100,2.5],[180,4],[230,2],[40,1.5]
];

const panels = [
 {row: 0, col: 0, stacks: dropFixedStacks, pts: dropFixedPts},
 {row: 0, col: 1, stacks: uncFixedStacks, pts: uncFixedPts},
 {row: 0, col: 2, stacks: shFixedStacks, pts: shFixedPts},
 {row: 0, col: 3, stacks: sampFixedStacks, pts: sampFixedPts},
 {row: 1, col: 0, stacks: dropVarStacks, pts: dropVarPts},
 {row: 1, col: 1, stacks: uncVarStacks, pts: uncVarPts},
 {row: 1, col: 2, stacks: shVarStacks, pts: shVarPts},
 {row: 1, col: 3, stacks: sampVarStacks, pts: sampVarPts}
];

// ---------- Layout ----------
const W = 836, H = 419;
const plotW = 158, plotH = 140;
const colStep = 198.7, rowStep = 191;
const plot0X = 72.7, plot0Y = 65.7;
const svg = d3.select("#chart");
const lineColor = "#333";

svg.append("line").attr("x1", 8).attr("x2", W).attr("y1", 41.5).attr("y2", 41.5).attr("stroke", lineColor).attr("stroke-width", 1.2);
svg.append("line").attr("x1", 8).attr("x2", W).attr("y1", 232.5).attr("y2", 232.5).attr("stroke", lineColor).attr("stroke-width", 1.2);
svg.append("line").attr("x1", 41.5).attr("x2", 41.5).attr("y1", 10).attr("y2", H).attr("stroke", lineColor).attr("stroke-width", 1.2);

methods.forEach((m, i) => {
  svg.append("text").attr("x", plot0X - 26.5 + i * colStep + 93.5).attr("y", 25)
    .attr("text-anchor", "middle").attr("font-family", "'Liberation Serif','Times New Roman',serif")
    .attr("font-size", 18).attr("fill", "#111").text(m);
});
regimes.forEach((r, i) => {
  const cy = plot0Y - 2.4 + i * rowStep + 81.5;
  svg.append("text").attr("transform", `translate(32.5,${cy}) rotate(-90)`)
    .attr("text-anchor", "middle").attr("font-family", "'Liberation Serif','Times New Roman',serif")
    .attr("font-size", 18).attr("fill", "#111").text(r);
});

const defs = svg.append("defs");

panels.forEach((p, idx) => {
  const px = plot0X + p.col * colStep;
  const py = plot0Y + p.row * rowStep;
  const x = d3.scaleLog().domain(axisDomain).range([px, px + plotW]);
  const y = d3.scaleLog().domain(axisDomain).range([py + plotH, py]);
  const g = svg.append("g");

  g.append("rect").attr("x", px - 26.5).attr("y", py - 2.4).attr("width", plotW + 28.8).attr("height", plotH + 21)
    .attr("fill", "#cbcbcb");
  g.append("rect").attr("x", px).attr("y", py).attr("width", plotW).attr("height", plotH).attr("fill", "#fff");

  defs.append("clipPath").attr("id", "clip" + idx).append("rect")
    .attr("x", px).attr("y", py).attr("width", plotW).attr("height", plotH);

  const data = [];
  p.stacks.forEach(([sx, ys]) => ys.forEach(v => data.push([sx, v])));
  p.pts.forEach(d => data.push(d));

  const pg = g.append("g").attr("clip-path", `url(#clip${idx})`);
  pg.selectAll("circle").data(data).join("circle")
    .attr("cx", d => x(d[0])).attr("cy", d => y(d[1])).attr("r", 1.35).attr("fill", "#363636");

  pg.append("line").attr("x1", x(axisDomain[0])).attr("y1", y(axisDomain[0]))
    .attr("x2", x(axisDomain[1])).attr("y2", y(axisDomain[1]))
    .attr("stroke", "#1e1e8c").attr("stroke-width", 1);
  if (p.row === 0) {
    pg.append("line").attr("x1", px).attr("x2", px + plotW)
      .attr("y1", y(fixedThreshold)).attr("y2", y(fixedThreshold))
      .attr("stroke", "#3a3aff").attr("stroke-width", 1.4);
  }

  const ticks = tickExponents.map(e => Math.pow(10, e));
  g.append("line").attr("x1", px).attr("x2", px).attr("y1", py).attr("y2", py + plotH).attr("stroke", "#333").attr("stroke-width", 1);
  g.append("line").attr("x1", px).attr("x2", px + plotW).attr("y1", py + plotH).attr("y2", py + plotH).attr("stroke", "#333").attr("stroke-width", 1);
  ticks.forEach((t, k) => {
    const e = tickExponents[k];
    g.append("line").attr("x1", px - 3).attr("x2", px).attr("y1", y(t)).attr("y2", y(t)).attr("stroke", "#333");
    const ty = g.append("text").attr("x", px - 25.5).attr("y", y(t) + 4.5)
      .attr("font-family", "'Liberation Sans',Arial,sans-serif").attr("font-size", 11.5).attr("fill", "#1a1a1a");
    ty.append("tspan").text("10");
    ty.append("tspan").attr("font-size", 8).attr("dy", -4.5).text(e < 0 ? "\u2212" + (-e) : String(e));
    g.append("line").attr("x1", x(t)).attr("x2", x(t)).attr("y1", py + plotH).attr("y2", py + plotH + 3).attr("stroke", "#333");
    const tx = g.append("text").attr("x", x(t) - 12.5).attr("y", py + plotH + 18.5)
      .attr("font-family", "'Liberation Sans',Arial,sans-serif").attr("font-size", 11.5).attr("fill", "#1a1a1a");
    tx.append("tspan").text("10");
    tx.append("tspan").attr("font-size", 8).attr("dy", -4.5).text(e < 0 ? "\u2212" + (-e) : String(e));
  });
});
</script>
</body></html>
